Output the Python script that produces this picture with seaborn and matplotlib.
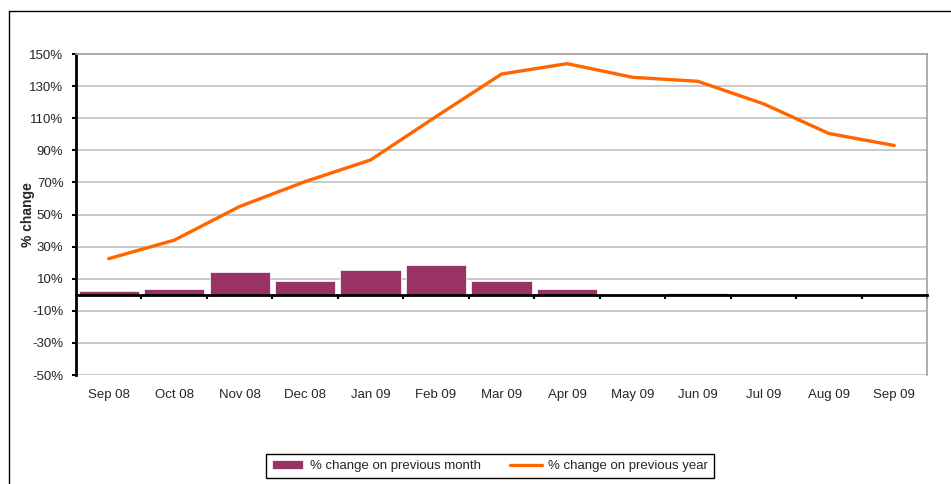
import matplotlib
matplotlib.use("Agg")
import seaborn as sns
import pandas as pd
import warnings
from matplotlib import pyplot as plt
from matplotlib.lines import Line2D
from matplotlib.ticker import FixedLocator
warnings.filterwarnings("ignore")

months = ['Sep 08', 'Oct 08', 'Nov 08', 'Dec 08', 'Jan 09', 'Feb 09', 'Mar 09',
          'Apr 09', 'May 09', 'Jun 09', 'Jul 09', 'Aug 09', 'Sep 09']
prev_month = [2.3, 3.7, 14.4, 8.3, 15.2, 18.5, 8.3, 3.6, -0.5, 0.8, -0.3, 0.0, -0.4]
prev_year = [22.5, 34, 55, 70.5, 84, 111, 137.5, 144, 135.5, 133, 119, 100.5, 93]
y_ticks = list(range(-50, 151, 20))

df = pd.DataFrame(dict(month=months, mom=prev_month, yoy=prev_year))

sns.set_style('white')
plt.rcParams['font.family'] = ['Liberation Sans', 'DejaVu Sans']

fig = plt.figure(figsize=(9.51, 4.84), dpi=100)
ax = fig.add_axes([0.0799, 0.2252, 0.8949, 0.6632])

sns.barplot(x='month', y='mom', data=df, color='#993366', saturation=1,
            width=0.92, edgecolor='white', linewidth=0.5, ax=ax,
            label='% change on previous month')
sns.lineplot(x=list(range(len(months))), y=prev_year, color='#FF6600', lw=2.4,
             ax=ax, label='% change on previous year')

ax.set_xlim(-0.5, len(months) - 0.5)
ax.set_ylim(-50, 150)
ax.set_yticks(y_ticks)
ax.set_yticklabels([f'{v}%' for v in y_ticks], fontsize=9.5)
ax.yaxis.grid(True, color='#c0c0c0', lw=1.2)
ax.set_axisbelow(True)

# spines: grey box, black left spine, black zero line
for s in ['top', 'right']:
    ax.spines[s].set_color('#a0a0a0')
    ax.spines[s].set_linewidth(1.2)
ax.spines['left'].set_color('black')
ax.spines['left'].set_linewidth(2)
ax.spines['bottom'].set_position(('data', 0))
ax.spines['bottom'].set_color('black')
ax.spines['bottom'].set_linewidth(2)
ax.spines['bottom'].set_zorder(3)

ax.tick_params(axis='y', which='major', direction='out', length=3, width=1.5,
               color='black', left=True, pad=6)
ax.set_xticks(range(len(months)))
ax.set_xticklabels(months, fontsize=9.5)
ax.tick_params(axis='x', which='major', length=0, pad=68)
ax.xaxis.set_minor_locator(FixedLocator([i + 0.5 for i in range(len(months))]))
ax.tick_params(axis='x', which='minor', direction='out', length=3, width=1.5,
               color='black', bottom=True)

ax.set_xlabel('')
ax.set_ylabel('% change', fontsize=10, fontweight='bold', labelpad=-4)

handles, labels = ax.get_legend_handles_labels()
order = [labels.index('% change on previous month'), labels.index('% change on previous year')]
ax.legend([handles[i] for i in order], [labels[i] for i in order],
          loc='center', bbox_to_anchor=(0.515, 0.037), bbox_transform=fig.transFigure,
          ncol=2, fontsize=9.5, frameon=True, fancybox=False, edgecolor='black',
          borderpad=0.45, handlelength=2.4, handletextpad=0.5, columnspacing=2.2,
          framealpha=1)
ax.get_legend().get_frame().set_linewidth(1)

# outer chart frame
fig.add_artist(Line2D([9 / 951, 9 / 951], [0, 1 - 11 / 484], color='black', lw=1))
fig.add_artist(Line2D([9 / 951, 1], [1 - 11 / 484, 1 - 11 / 484], color='black', lw=1))

fig.savefig('out.png', dpi=100)
